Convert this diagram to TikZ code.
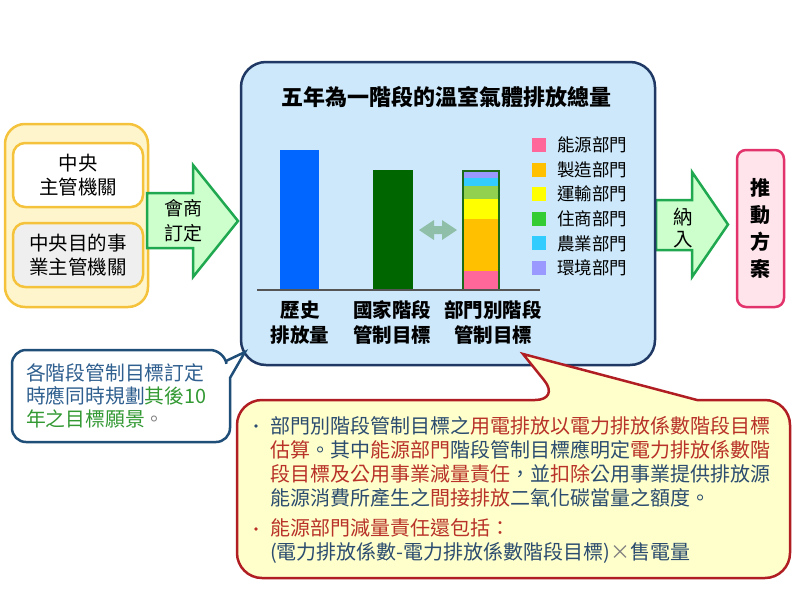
\documentclass[tikz,border=0pt]{standalone}
\usepackage{fontspec}
\setmainfont{Noto Sans CJK TC}
\usetikzlibrary{positioning}
\definecolor{yelfill}{HTML}{FFF5CC}
\definecolor{yelborder}{HTML}{F5C33B}
\definecolor{grayfill}{HTML}{EFEFEF}
\definecolor{arrfill}{HTML}{CCFFCC}
\definecolor{arrborder}{HTML}{1FA84F}
\definecolor{bluefill}{HTML}{CCE8FA}
\definecolor{navy}{HTML}{1F3864}
\definecolor{calloutblue}{HTML}{1F4E79}
\definecolor{txtblue}{HTML}{2F5F8F}
\definecolor{txtgreen}{HTML}{339933}
\definecolor{redborder}{HTML}{B01E23}
\definecolor{redfill}{HTML}{FFFFCC}
\definecolor{txtdark}{HTML}{2B4C6F}
\definecolor{txtred}{HTML}{B83228}
\definecolor{pinkfill}{HTML}{FFE4EC}
\definecolor{pinkborder}{HTML}{E3336C}
\definecolor{barblue}{HTML}{0066FF}
\definecolor{bargreen}{HTML}{006600}
\definecolor{stackborder}{HTML}{1B6B1B}
\definecolor{segpink}{HTML}{FF6699}
\definecolor{segorange}{HTML}{FFC000}
\definecolor{segyellow}{HTML}{FFFF00}
\definecolor{seglgreen}{HTML}{92D050}
\definecolor{seggreen}{HTML}{33CC33}
\definecolor{segcyan}{HTML}{33CCFF}
\definecolor{seglav}{HTML}{9999FF}
\definecolor{dblarrow}{HTML}{8FBFA8}
\definecolor{axisgray}{HTML}{555555}
\tikzset{
  orgbox/.style={draw=yelborder, line width=2.5pt, rounded corners=12pt, minimum width=130pt, minimum height=64pt, align=center, inner sep=0pt, font=\fontsize{19.5}{24}\selectfont},
  blockarrow/.style={draw=arrborder, fill=arrfill, line width=2.5pt, line join=miter},
  arrtext/.style={align=center, inner sep=0pt, font=\fontsize{19}{25}\selectfont},
  barlabel/.style={align=center, inner sep=0pt, font=\bfseries\fontsize{19.5}{25}\selectfont},
  legendtext/.style={anchor=west, inner sep=0pt, font=\fontsize{17.5}{20}\selectfont},
  notetext/.style={anchor=west, align=left, inner sep=0pt, font=\fontsize{19.8}{23}\selectfont},
  redtext/.style={anchor=west, align=left, inner sep=0pt, text=txtdark, font=\fontsize{20}{24.2}\selectfont},
}
\begin{document}
\begin{tikzpicture}[x=1pt,y=-1pt]
\useasboundingbox (0,0) rectangle (800,600);
\fill[white] (0,0) rectangle (800,600);

% left organisation box
\node[draw=yelborder, fill=yelfill, line width=2.5pt, rounded corners=20pt, minimum width=143pt, minimum height=183pt] (org) at (76.5,215.5) {};
\node[orgbox, fill=white] (central) at (78,175) {中央\\主管機關};
\node[orgbox, fill=grayfill] (central2) at (78,255) {中央目的事\\業主管機關};

% arrow 1
\draw[blockarrow] (147,193) -- (193,193) -- (193,165) -- (238,221) -- (193,277) -- (193,248) -- (147,248) -- cycle;
\node[arrtext] (a1) at (183,221) {會商\\訂定};

% arrow 2
\draw[blockarrow] (656,200) -- (692,200) -- (692,172) -- (728,224.5) -- (692,277) -- (692,250) -- (656,250) -- cycle;
\node[arrtext, font=\fontsize{19.5}{22}\selectfont] (a2) at (683,228) {納\\入};

% main blue box
\node[draw=navy, fill=bluefill, line width=2.5pt, rounded corners=25pt, minimum width=414pt, minimum height=303pt] (main) at (448,213.5) {};
\node[inner sep=0pt, font=\bfseries\fontsize{22}{26}\selectfont] (title) at (446,97) {五年為一階段的溫室氣體排放總量};

% bars
\fill[barblue] (280,150) rectangle (319,290);
\fill[bargreen] (373,170) rectangle (413,290);
\fill[segpink] (463,271) rectangle (499,290);
\fill[segorange] (463,219) rectangle (499,271);
\fill[segyellow] (463,199) rectangle (499,219);
\fill[seglgreen] (463,186) rectangle (499,199);
\fill[segcyan] (463,178) rectangle (499,186);
\fill[seglav] (463,171) rectangle (499,178);
\draw[stackborder, line width=2pt] (463,171) rectangle (499,290);
\draw[axisgray, line width=1.5pt] (257,290) -- (540,290);

% double arrow
\fill[dblarrow] (419,230) -- (434,220) -- (434,226) -- (442,226) -- (442,220) -- (457,230) -- (442,240) -- (442,234) -- (434,234) -- (434,240) -- cycle;

% legend
\foreach \c/\t [count=\i from 0] in {segpink/能源部門, segorange/製造部門, segyellow/運輸部門, seggreen/住商部門, segcyan/農業部門, seglav/環境部門}{
  \fill[\c] (532,{145+\i*24.6-7}) rectangle (546,{145+\i*24.6+7});
  \node[legendtext] (leg\i) at (557,{145+\i*24.6}) {\t};
}

% bar labels
\node[barlabel] (l1) at (300,322.5) {歷史\\排放量};
\node[barlabel] (l2) at (392,322.5) {國家階段\\管制目標};
\node[barlabel] (l3) at (493,322.5) {部門別階段\\管制目標};

% target box
\node[draw=pinkborder, fill=pinkfill, line width=2.5pt, rounded corners=9pt, minimum width=47pt, minimum height=157pt, align=center, inner sep=0pt, font=\bfseries\fontsize{20}{27}\selectfont] (plan) at (760.5,228.5) {推\\動\\方\\案};

% left callout
\draw[calloutblue, fill=white, line width=2.5pt, line join=miter] (100,350) [rounded corners=14pt] -- (224,350) [sharp corners] -- (226,361) -- (245,352) -- (230,378) [rounded corners=14pt] -- (230,442) -- (12,442) -- (12,350) -- cycle;
\node[notetext, text=txtblue] (note) at (26,396) {各階段管制目標訂定\\時應同時規劃\textcolor{txtgreen}{其後10}\\\textcolor{txtgreen}{年之目標願景}\textcolor{gray}{。}};

% red callout
\draw[redborder, fill=redfill, line width=2.5pt, line join=miter] (300,578) [rounded corners=25pt] -- (237,578) -- (237,400) -- (560,400) [sharp corners] -- (523,354) -- (697,400) [rounded corners=25pt] -- (790,400) -- (790,578) -- cycle;
\fill[txtdark] (256,426) circle (1.8pt);
\fill[txtred] (256,529) circle (1.8pt);
\node[redtext] (b1) at (270,462) {部門別階段管制目標之\textcolor{txtred}{用電排放以電力排放係數階段目標}\\\textcolor{txtred}{估算}。其中\textcolor{txtred}{能源部門}階段管制目標應明定\textcolor{txtred}{電力排放係數階}\\\textcolor{txtred}{段目標及公用事業減量責任}，並\textcolor{txtred}{扣除}公用事業提供排放源\\能源消費所產生之\textcolor{txtred}{間接排放}二氧化碳當量之額度。};
\node[redtext] (b2) at (270,541) {\textcolor{txtred}{能源部門減量責任還包括：}\\(電力排放係數-電力排放係數階段目標)\textcolor{gray}{×}售電量};
\end{tikzpicture}
\end{document}
